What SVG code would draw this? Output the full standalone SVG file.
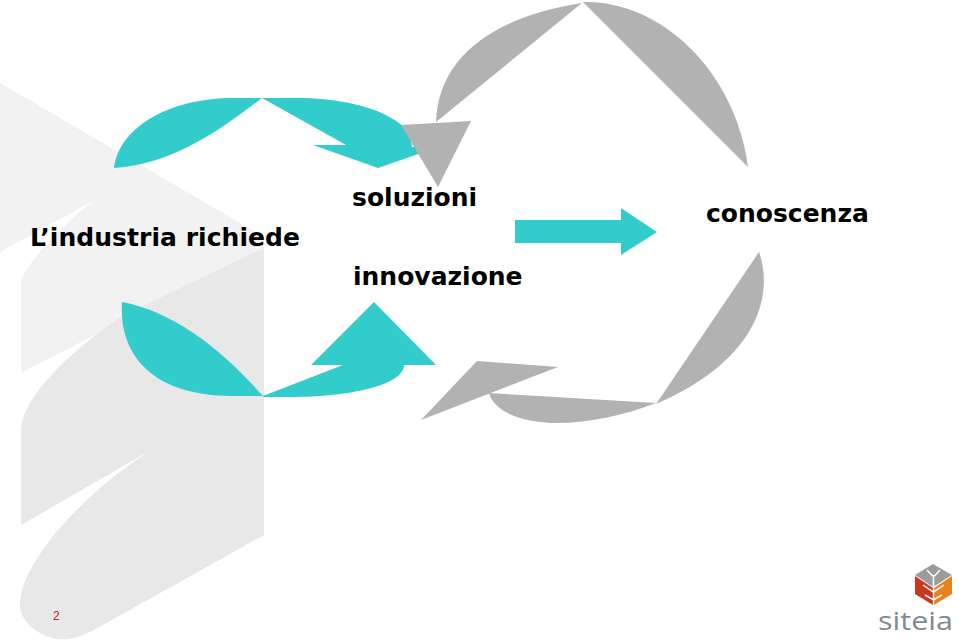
<svg xmlns="http://www.w3.org/2000/svg" width="959" height="642" viewBox="0 0 959 642">
<style>
.teal{fill:#33cccc}
.grey{fill:#b2b2b2}
.label{font-family:"DejaVu Sans",Verdana,sans-serif;font-weight:700;font-size:25px;fill:#000}
</style>
<rect width="959" height="642" fill="#fff"/>
<g id="backdrop">
<path fill="#f2f2f2" d="M0,83 L264,237 L264,248 L21,373 L21,280 C24,268 60,225 95,200 L0,252 Z"/>
<path fill="#e8e8e8" d="M264,248 L264,535 L92,631 C78,638 68,640 58,639 C38,636 20,622 20,604 C20,565 80,495 151,450 L21,525 L21,429 C24,395 70,352 120,317 Z"/>
</g>
<g id="connectors">
<path class="teal" d="M114,168 C118,130 165,98 235,98 L262,98 C218,132 170,165 114,168 Z"/>
<path class="teal" d="M262,98 L346,145 L313,145 L378,168 L430,150 L405,128 C380,105 335,98 295,98 Z"/>
<path fill="#dff6f6" d="M411,141 L415,140 L418,147 L412,147 Z"/>
<path class="teal" d="M122,302 C175,312 222,350 263,396 L230,396 C165,396 118,365 122,302 Z"/>
<path class="teal" d="M263,396 L343,365 L311,365 L374,302 L436,365 L404,365 C404,385 350,397 290,397 L263,397 Z"/>
<path class="grey" d="M436,122 C438,55 497,16 582,3 Z"/>
<path class="grey" d="M583,2 C660,0 735,70 748,167 Z"/>
<polygon class="grey" points="401,125 471,121 438,187"/>
<path class="grey" d="M759,252 C774,295 758,360 656,404 Z"/>
<path class="grey" d="M656,403 L489,393 C495,415 530,423 557,423 C590,423 625,415 656,403 Z"/>
<polygon class="grey" points="477,361 558,367 421,420"/>
<polygon class="teal" points="515,220 621,220 621,208 657,232 621,255 621,243 515,243"/>
</g>
<g id="node-industria"><text class="label" x="30" y="246" textLength="270" lengthAdjust="spacing">L’industria richiede</text></g>
<g id="node-soluzioni"><text class="label" x="352" y="206">soluzioni</text></g>
<g id="node-innovazione"><text class="label" x="353" y="285">innovazione</text></g>
<g id="node-conoscenza"><text class="label" x="706" y="222">conoscenza</text></g>
<text x="53" y="620" font-family="Liberation Sans,Arial,sans-serif" font-size="12" fill="#c0281c">2</text>
<g id="logo">
<polygon fill="#9a9c9e" points="933,564 952,575 933,587 915,575"/>
<polygon fill="#c8381f" points="915,576 933,588 933,605 915,594"/>
<polygon fill="#e8821e" points="952,576 934,588 934,605 952,594"/>
<path d="M933.500,575 V604 M927,570 L933.500,577 L940,570 M923,585 L933.500,592 L944,585 M925,595 L933.500,600 L942,595" stroke="#fff" stroke-width="1.500" fill="none"/>
<text x="878" y="630" font-family="Open Sans,Liberation Sans,sans-serif" font-size="26" fill="#7f8a92" textLength="75" lengthAdjust="spacingAndGlyphs">siteia</text>
</g>
</svg>
